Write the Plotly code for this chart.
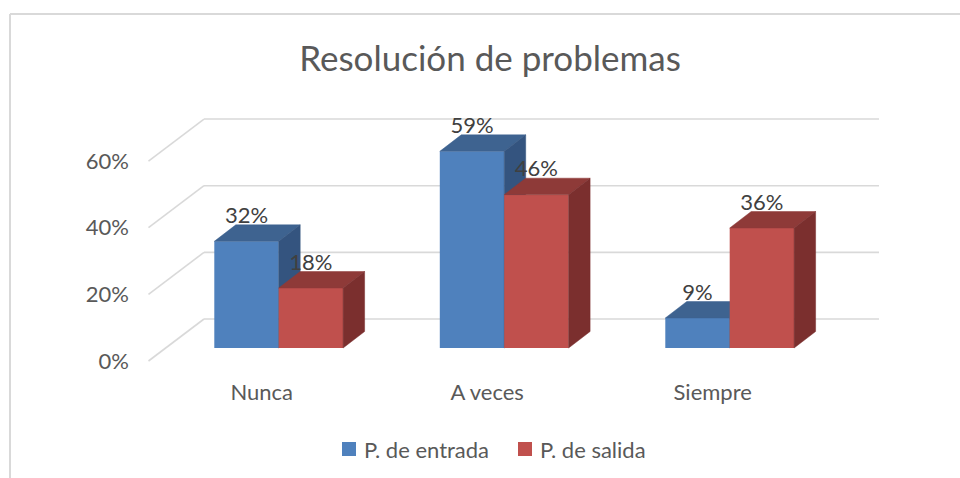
import plotly.graph_objects as go

categories = ["Nunca", "A veces", "Siempre"]
entrada = [32, 59, 9]
salida = [18, 46, 36]
grid_values = [0, 20, 40, 60]
tick_labels = ["0%", "20%", "40%", "60%"]

WIDTH = 960
HEIGHT = 478

# pixel scale of the front plane
PX_PER_CAT = 225.5
PX_PER_PCT = 3.333
X_ORIGIN = 278.7   # centre of first group
Y_ORIGIN = 348     # bar baseline


def dx(px):
    return px / PX_PER_CAT


def dy(px):
    return px / PX_PER_PCT


x_range = [dx(0 - X_ORIGIN), dx(WIDTH - X_ORIGIN)]
y_range = [dy(Y_ORIGIN - HEIGHT), dy(Y_ORIGIN)]

BAR_W = dx(64.4)
DEPTH_X = dx(21.5)
DEPTH_Y = dy(16.5)
LABEL_UP = dy(24)


def box_faces(values, offset):
    # top and side faces of the fake 3d bars, as closed paths
    top_x, top_y, side_x, side_y = [], [], [], []
    for i, v in enumerate(values):
        x0 = i + offset
        x1 = x0 + BAR_W
        top_x += [x0, x1, x1 + DEPTH_X, x0 + DEPTH_X, x0, None]
        top_y += [v, v, v + DEPTH_Y, v + DEPTH_Y, v, None]
        side_x += [x1, x1, x1 + DEPTH_X, x1 + DEPTH_X, x1, None]
        side_y += [0, v, v + DEPTH_Y, DEPTH_Y, 0, None]
    return top_x, top_y, side_x, side_y


def add_series(fig, values, offset, front, top, side, name, xa, ya):
    fig.add_trace(go.Bar(
        x=[0, 1, 2], y=values, width=BAR_W, offset=offset, name=name,
        marker=dict(color=front, line=dict(width=0)),
        showlegend=False, hoverinfo="skip", xaxis=xa, yaxis=ya,
    ))
    top_x, top_y, side_x, side_y = box_faces(values, offset)
    for fx, fy, col in [(top_x, top_y, top), (side_x, side_y, side)]:
        fig.add_trace(go.Scatter(
            x=fx, y=fy, mode="lines", fill="toself", fillcolor=col,
            line=dict(color=col, width=0.5),
            showlegend=False, hoverinfo="skip", xaxis=xa, yaxis=ya,
        ))


fig = go.Figure()

add_series(fig, entrada, -BAR_W, "#4f81bd", "#3e6390", "#34547f", "P. de entrada", "x", "y")
add_series(fig, salida, 0, "#c0504d", "#8e3a38", "#7b2f2e", "P. de salida", "x2", "y2")

# data labels
fig.add_trace(go.Scatter(
    x=[i - BAR_W / 2 for i in range(3)] + [i + BAR_W / 2 for i in range(3)],
    y=[v + LABEL_UP for v in entrada + salida],
    text=[f"{v}%" for v in entrada + salida],
    mode="text", textposition="middle center",
    textfont=dict(family="Lato", size=22, color="#404040"),
    showlegend=False, hoverinfo="skip", xaxis="x2", yaxis="y2",
))

# holds the axes that only carry the tick labels
fig.add_trace(go.Scatter(
    x=[0, 1, 2], y=[0, 20, 40], mode="markers", marker=dict(opacity=0),
    showlegend=False, hoverinfo="skip", xaxis="x3", yaxis="y3",
))

# gridlines: back wall plus the slanted bit on the side wall
GRID_BACK_X = dx(204 - X_ORIGIN)
GRID_FRONT_X = dx(148.5 - X_ORIGIN)
GRID_RIGHT_X = dx(879 - X_ORIGIN)
GRID_BACK_UP = dy(29)
GRID_FRONT_DOWN = dy(13)
grid_color = "#d9d9d9"
for v in grid_values:
    for (x0, y0, x1, y1) in [
        (GRID_FRONT_X, v - GRID_FRONT_DOWN, GRID_BACK_X, v + GRID_BACK_UP),
        (GRID_BACK_X, v + GRID_BACK_UP, GRID_RIGHT_X, v + GRID_BACK_UP),
    ]:
        fig.add_shape(
            type="line", xref="x", yref="y",
            x0=x0, y0=y0, x1=x1, y1=y1,
            line=dict(color=grid_color, width=1.6),
            layer="below",
        )

# chart frame (top and left edges only, the crop cuts the rest)
for (x0, y0, x1, y1) in [(10, 14, 960, 14), (10, 14, 10, 478)]:
    fig.add_shape(
        type="line", xref="paper", yref="paper",
        x0=x0 / WIDTH, y0=1 - y0 / HEIGHT, x1=x1 / WIDTH, y1=1 - y1 / HEIGHT,
        line=dict(color="#d9d9d9", width=2),
    )

# legend
legend_items = [("P. de entrada", "#4f81bd", 342, 362), ("P. de salida", "#c0504d", 518, 538)]
for name, color, sq_x, text_x in legend_items:
    fig.add_shape(
        type="rect", xref="paper", yref="paper",
        x0=sq_x / WIDTH, x1=(sq_x + 14) / WIDTH,
        y0=1 - 456 / HEIGHT, y1=1 - 442 / HEIGHT,
        fillcolor=color, line=dict(width=0),
    )
    fig.add_annotation(
        xref="paper", yref="paper", x=text_x / WIDTH, y=1 - 449 / HEIGHT,
        text=name, showarrow=False, xanchor="left", yanchor="middle",
        font=dict(family="Lato", size=22, color="#595959"),
    )

hidden = dict(visible=False, fixedrange=True)
fig.update_layout(
    width=WIDTH,
    height=HEIGHT,
    margin=dict(l=0, r=0, t=0, b=0),
    paper_bgcolor="white",
    plot_bgcolor="white",
    showlegend=False,
    title=dict(
        text="Resolución de problemas", x=490 / WIDTH, xanchor="center",
        y=1 - 59 / HEIGHT, yanchor="middle",
        font=dict(family="Lato", size=35, color="#595959"),
    ),
    xaxis=dict(range=x_range, **hidden),
    yaxis=dict(range=y_range, **hidden),
    xaxis2=dict(range=x_range, overlaying="x", **hidden),
    yaxis2=dict(range=y_range, overlaying="y", **hidden),
    # tick labels sit on the floor edge, so these two are shifted from the bars
    xaxis3=dict(
        range=[r + dx(17) for r in x_range], overlaying="x", anchor="free",
        position=1 - 377 / HEIGHT, tickmode="array", tickvals=[0, 1, 2],
        ticktext=categories, showgrid=False, zeroline=False, showline=False,
        ticks="", tickfont=dict(family="Lato", size=22, color="#595959"),
        fixedrange=True,
    ),
    yaxis3=dict(
        range=[r + GRID_FRONT_DOWN for r in y_range], overlaying="y", anchor="free",
        position=129 / WIDTH, tickmode="array", tickvals=grid_values,
        ticktext=tick_labels, showgrid=False, zeroline=False, showline=False,
        ticks="", tickfont=dict(family="Lato", size=22, color="#595959"),
        fixedrange=True,
    ),
)

fig.write_html("out.html", config=dict(displayModeBar=False), post_script="document.body.style.margin='0';")
